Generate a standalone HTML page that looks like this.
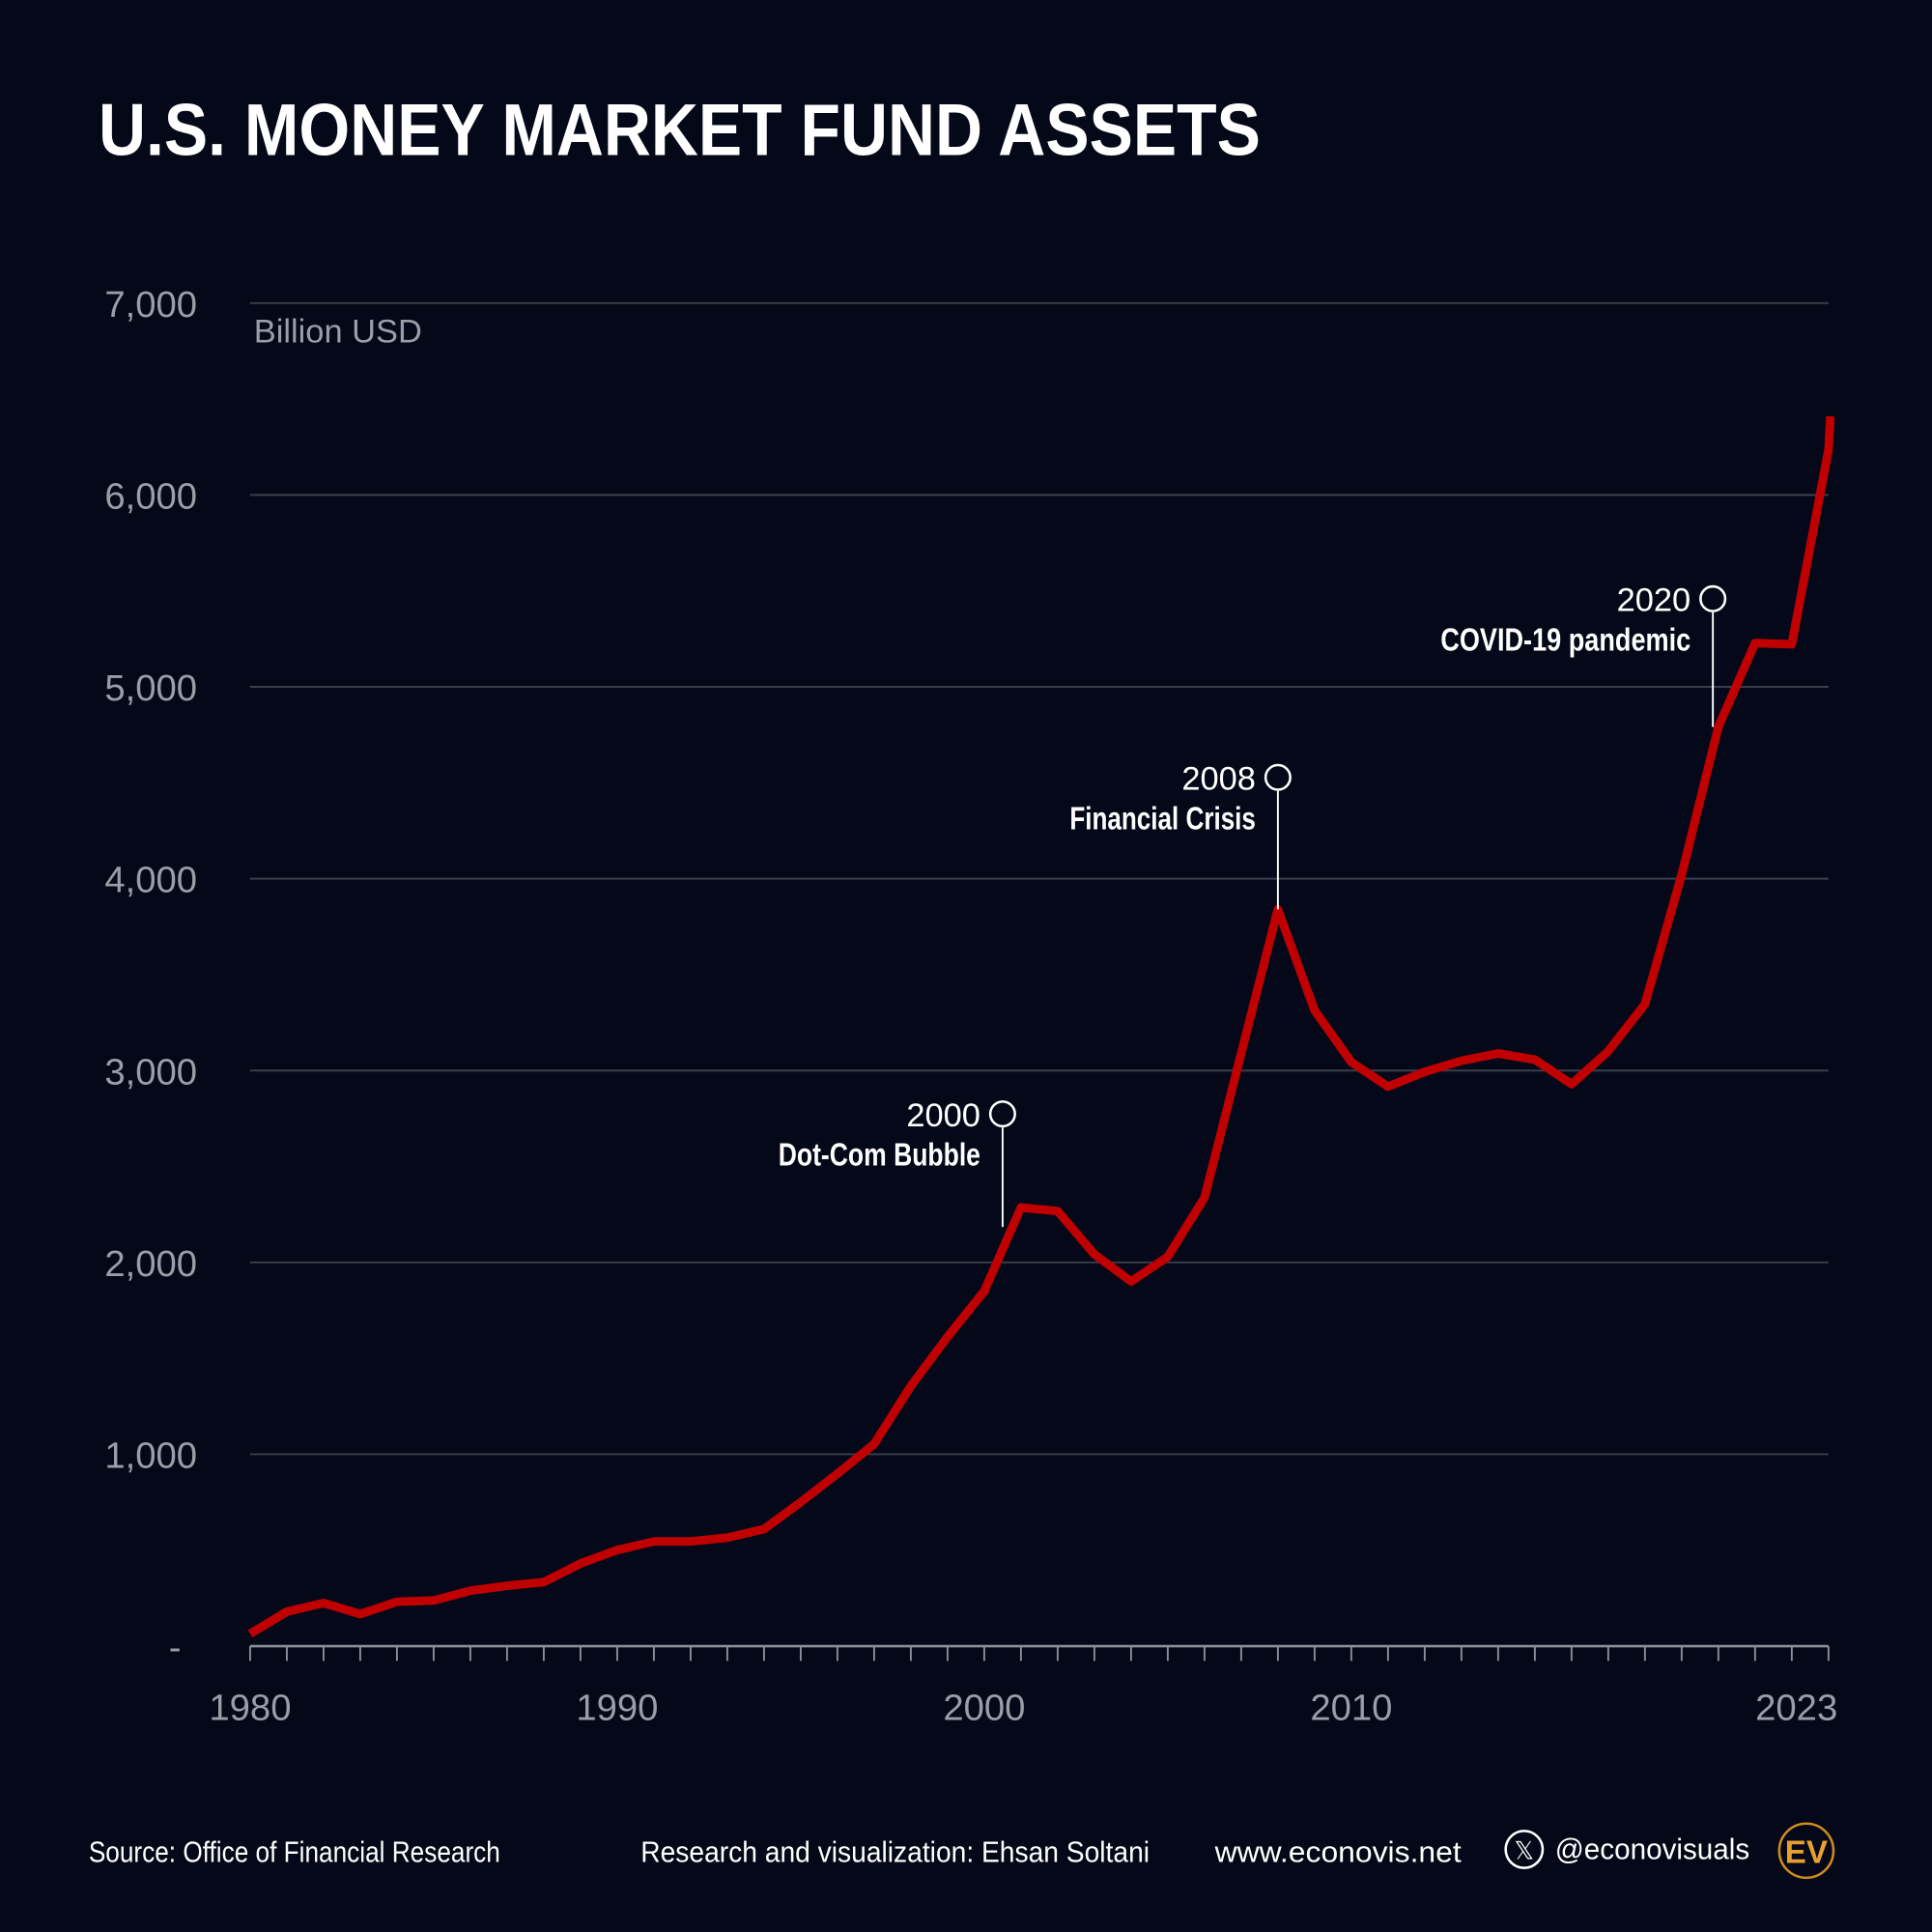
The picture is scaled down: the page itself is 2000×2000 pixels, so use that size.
<!DOCTYPE html>
<html><head><meta charset="utf-8"><style>
html,body{margin:0;padding:0;background:#040818;}
svg{display:block}
text{font-family:"Liberation Sans",sans-serif;}
</style></head><body>
<svg id="chart" width="2000" height="2000" viewBox="0 0 1568 1568" xmlns="http://www.w3.org/2000/svg">
<rect width="1568" height="1568" fill="#040818"/>
<text x="80" y="126" font-size="60" font-weight="bold" fill="#ffffff" textLength="943" lengthAdjust="spacingAndGlyphs">U.S. MONEY MARKET FUND ASSETS</text>
<text x="206" y="278" font-size="27" fill="#9a9ea8">Billion USD</text>
<g id="grid"></g><g id="ticks"></g>
<path id="line" fill="none" stroke="#c00000" stroke-width="7" stroke-linejoin="round"/>
<g id="ann"></g>
<g font-size="24" fill="#ffffff">
<text x="72" y="1511" textLength="334" lengthAdjust="spacingAndGlyphs">Source: Office of Financial Research</text>
<text x="520" y="1511" textLength="413" lengthAdjust="spacingAndGlyphs">Research and visualization: Ehsan Soltani</text>
<text x="986" y="1511" textLength="200" lengthAdjust="spacingAndGlyphs">www.econovis.net</text>
<circle cx="1237" cy="1501" r="15" fill="none" stroke="#fff" stroke-width="2"/>
<text x="1237" y="1509" font-size="20" text-anchor="middle">𝕏</text>
<text x="1262" y="1509" textLength="158" lengthAdjust="spacingAndGlyphs">@econovisuals</text>
<circle cx="1466" cy="1502" r="22" fill="none" stroke="#d08a20" stroke-width="2"/>
<text x="1466" y="1512" font-size="26" font-weight="bold" fill="#e8a030" text-anchor="middle">EV</text>
</g>
</svg>
<script>
const years=[1980,1981,1982,1983,1984,1985,1986,1987,1988,1989,1990,1991,1992,1993,1994,1995,1996,1997,1998,1999,2000,2001,2002,2003,2004,2005,2006,2007,2008,2009,2010,2011,2012,2013,2014,2015,2016,2017,2018,2019,2020,2021,2022,2023,2023.05];
const assets=[64,180,225,167,231,238,289,315,334,430,501,546,546,565,610,751,899,1053,1355,1612,1850,2286,2267,2042,1901,2030,2338,3089,3840,3314,3044,2916,2993,3051,3089,3057,2929,3102,3346,4020,4791,5228,5222,6236,6410];
const yTicks=[0,1000,2000,3000,4000,5000,6000,7000];
const yTickLabels=["-","1,000","2,000","3,000","4,000","5,000","6,000","7,000"];
const xLabelYears=[1980,1990,2000,2010,2023];
const annYears=[2000.5,2008,2019.85];
const annLineEnds=[2185,3840,4791];
const annTops=[2774,4528,5459];
const annYearLabels=["2000","2008","2020"];
const annTexts=["Dot-Com Bubble","Financial Crisis","COVID-19 pandemic"];
const annTextWidths=[164,151,203];
const NS="http://www.w3.org/2000/svg";
const X=y=>203+(y-1980)*(1484-203)/43;
const Y=v=>1336-v*(1336-246)/7000;
function mk(tag,attrs,parent,txt){const e=document.createElementNS(NS,tag);for(const k in attrs)e.setAttribute(k,attrs[k]);if(txt!==undefined)e.textContent=txt;parent.appendChild(e);return e;}
const grid=document.getElementById('grid');
yTicks.forEach((t,i)=>{
  if(t>0){const l=mk('line',{x1:203,x2:1484,y1:Y(t),y2:Y(t),stroke:'#3a3f4e','stroke-width':1.5},grid);
  
  }
  const tx=mk('text',{x:t===0?147:160,y:Y(t)+11,'font-size':30,fill:'#9a9ea8','text-anchor':'end'},grid,yTickLabels[i]);
  
  
});
const tk=document.getElementById('ticks');
const ax=mk('line',{x1:203,x2:1484,y1:1336,y2:1336,stroke:'#8a8e98','stroke-width':2},tk);


for(let y=1980;y<=2023;y++){
  const t=mk('line',{x1:X(y),x2:X(y),y1:1336,y2:1348,stroke:'#8a8e98','stroke-width':1.5},tk);
  
  
}
xLabelYears.forEach(y=>{
  const t=mk('text',{x:y===2023?X(y)-26:X(y),y:1396,'font-size':30,fill:'#9a9ea8','text-anchor':'middle'},tk,String(y));
  
  
});
document.getElementById('line').setAttribute('d',years.map((y,i)=>(i?'L':'M')+X(y).toFixed(1)+','+Y(assets[i]).toFixed(1)).join(''));
const ann=document.getElementById('ann');
annYears.forEach((y,i)=>{
  const x=X(y);
  const cy=Y(annTops[i]);
  const l=mk('line',{x1:x,x2:x,y1:cy+11,y2:Y(annLineEnds[i]),stroke:'#ffffff','stroke-width':1.5},ann);
  
  
  const c=mk('circle',{cx:x,cy:cy,r:10,fill:'none',stroke:'#ffffff','stroke-width':2},ann);
  
  
  const t1=mk('text',{x:x-18,y:cy+10,'font-size':27,fill:'#ffffff','text-anchor':'end'},ann,annYearLabels[i]);
  
  
  const t2=mk('text',{x:x-18-annTextWidths[i],y:cy+42,'font-size':26,'font-weight':'bold',fill:'#ffffff',textLength:annTextWidths[i],lengthAdjust:'spacingAndGlyphs'},ann,annTexts[i]);
  
  
});
</script>
</body></html>
